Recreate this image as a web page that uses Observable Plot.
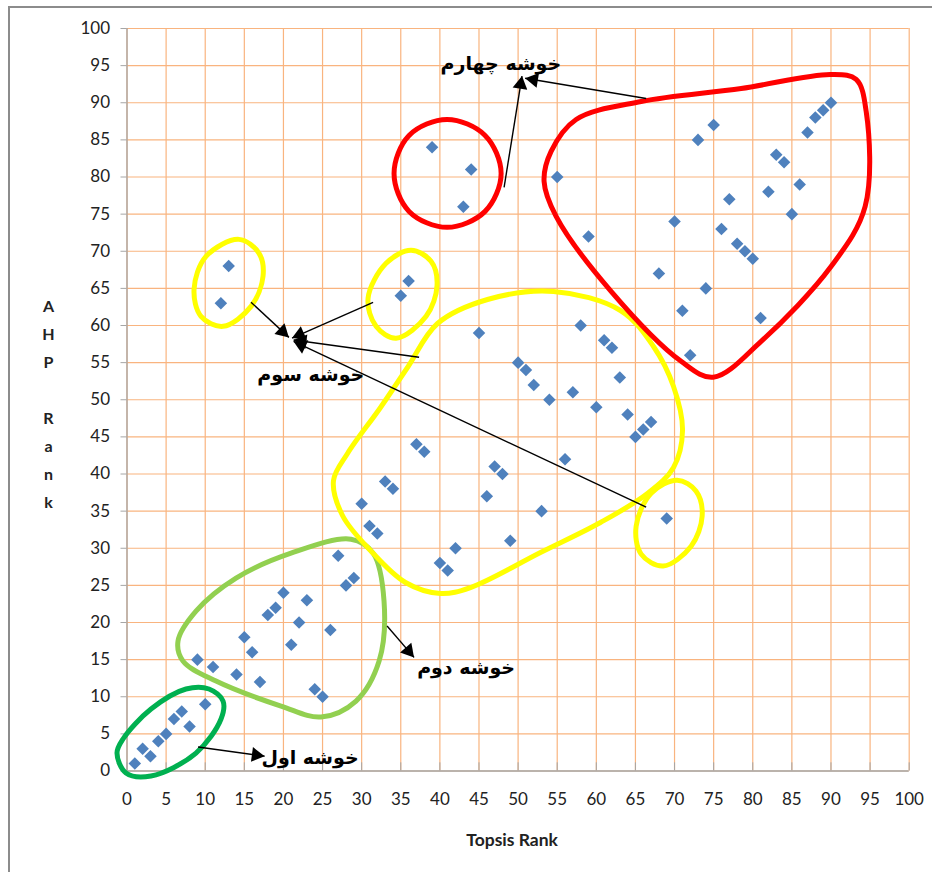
<!DOCTYPE html>
<html>
<head>
<meta charset="utf-8">
<script src="https://cdn.jsdelivr.net/npm/d3@7"></script>
<script src="https://cdn.jsdelivr.net/npm/@observablehq/plot@0.6"></script>
<style>
  html, body { margin: 0; padding: 0; background: #fff; overflow: hidden; }
  #wrap { position: relative; width: 933px; height: 872px; }
  #frame { position: absolute; left: 8px; top: 6px; width: 922px; height: 864px;
           border-left: 2px solid #8c8c8c; border-top: 2px solid #8c8c8c; pointer-events: none; z-index: 2; }
  #chart { position: absolute; left: 0; top: 0; }
</style>
</head>
<body>
<div id="wrap"><div id="frame"></div><div id="chart"></div></div>
<script>
// ---- data (Topsis rank vs AHP rank) ----
const topsisRank = [1,2,3,4,5,6,7,8,9,10,11,12,13,14,15,16,17,18,19,20,21,22,23,24,25,26,27,28,29,30,
  31,32,33,34,35,36,37,38,39,40,41,42,43,44,45,46,47,48,49,50,51,52,53,54,55,56,57,58,59,60,
  61,62,63,64,65,66,67,68,69,70,71,72,73,74,75,76,77,78,79,80,81,82,83,84,85,86,87,88,89,90];
const ahpRank = [1,3,2,4,5,7,8,6,15,9,14,63,68,13,18,16,12,21,22,24,17,20,23,11,10,19,29,25,26,36,
  33,32,39,38,64,66,44,43,84,28,27,30,76,81,59,37,41,40,31,55,54,52,35,50,80,42,51,60,72,49,
  58,57,53,48,45,46,47,67,34,74,62,56,85,65,87,73,77,71,70,69,61,78,83,82,75,79,86,88,89,90];
const xTicks = [0,5,10,15,20,25,30,35,40,45,50,55,60,65,70,75,80,85,90,95,100];
const yTicks = [0,5,10,15,20,25,30,35,40,45,50,55,60,65,70,75,80,85,90,95,100];

// ---- cluster outlines (data coordinates) ----
const cluster1Outline = [[-1.28,2.42],[-0.13,-0.27],[3.07,-0.67],[8.82,2.42],[12.02,7.0],[12.28,9.42],[10.49,11.04],[7.54,11.04],[3.07,8.34],[-0.51,4.31]];
const cluster2Outline = [[6.52,17.5],[8.82,21.53],[13.94,25.98],[20.97,29.34],[28.64,31.22],[31.46,29.34],[32.86,22.88],[32.23,14.8],[29.28,9.42],[24.81,7.27],[19.69,8.75],[11.38,12.11],[7.16,14.8]];
const cluster3Outline = [[54.53,64.58],[63.09,62.02],[67.31,57.17],[69.87,51.78],[71.02,45.86],[69.87,40.88],[66.54,37.37],[60.53,33.47],[52.86,29.43],[43.91,24.71],[40.07,23.91],[35.6,25.39],[31.13,29.7],[27.55,34.41],[26.4,39.12],[28.19,42.76],[32.41,48.96],[35.86,54.34],[39.7,60.27],[46.09,63.5]];
const cluster3SmallA = [[14.32,71.6],[16.88,69.72],[17.39,66.62],[15.86,62.58],[12.28,59.89],[9.46,61.24],[8.57,64.87],[10.1,69.31]];
const cluster3SmallB = [[36.32,70.12],[38.87,68.64],[39.64,65.41],[38.24,61.24],[34.4,58.28],[31.84,59.89],[30.82,63.66],[33.12,68.37]];
const cluster3SmallC = [[70.33,39.17],[72.76,37.69],[73.53,34.32],[72.12,30.28],[68.54,27.6],[65.73,29.21],[65.09,32.97],[67.01,37.42]];
const cluster4Circle = [[40.92,87.75],[45.78,85.6],[47.83,80.48],[45.78,75.37],[40.92,73.22],[36.06,75.37],[34.14,80.48],[36.06,85.6]];
const cluster4Outline = [[54.22,83.45],[57.42,87.75],[65.73,90.17],[78.52,91.92],[90.03,93.81],[93.22,93.14],[94.5,88.83],[94.37,76.04],[90.03,67.97],[81.07,57.87],[74.94,53.03],[70.84,55.18],[61.89,64.6],[54.86,74.7],[53.32,79.41]];

// ---- arrows [x1, y1, x2(tip), y2(tip)] ----
const arrowSegments = [
  [9.08,3.23,17.6,2.0],
  [33.25,19.52,36.7,15.3],
  [15.86,63.12,20.7,58.4],
  [31.46,63.12,21.1,58.3],
  [37.34,55.72,21.3,58.05],
  [66.37,35.53,21.3,57.85],
  [48.21,78.6,50.5,93.6],
  [66.37,90.58,50.9,93.3]
];

// ---- labels ----
const clusterLabels = ["خوشه اول", "خوشه دوم", "خوشه سوم", "خوشه چهارم"];
const clusterLabelX = [23.4, 43.35, 23.5, 47.8];
const clusterLabelY = [1.75, 13.86, 53.4, 95.2];

const points = topsisRank.map((x, i) => ({x, y: ahpRank[i]}));
const labels = clusterLabels.map((t, i) => ({t, x: clusterLabelX[i], y: clusterLabelY[i]}));

const base = {
  width: 933, height: 872,
  marginLeft: 126.5, marginRight: 24.3, marginTop: 28, marginBottom: 101.5,
  x: {domain: [0, 100]}, y: {domain: [0, 100]},
  style: {fontFamily: "Lato, 'Open Sans', sans-serif", fontSize: "17px", color: "#222", background: "transparent"}
};

// preliminary plot to get pixel scales for arrowhead orientation
const pre = Plot.plot({...base, marks: [Plot.dot(points, {x: "x", y: "y"})]});
const sx = pre.scale("x"), sy = pre.scale("y");
const headR = 5.5;
const tipDist = 2 * Math.sqrt((Math.PI * headR * headR) / (3 * Math.sqrt(3)));
const heads = arrowSegments.map(a => {
  const px1 = sx.apply(a[0]), py1 = sy.apply(a[1]);
  const px2 = sx.apply(a[2]), py2 = sy.apply(a[3]);
  const dx = px2 - px1, dy = py2 - py1, L = Math.hypot(dx, dy);
  const ux = dx / L, uy = dy / L;
  return {
    x: sx.invert(px2 - ux * tipDist),
    y: sy.invert(py2 - uy * tipDist),
    rotate: Math.atan2(ux, -uy) * 180 / Math.PI
  };
});
const links = arrowSegments.map(a => ({x1: a[0], y1: a[1], x2: a[2], y2: a[3]}));

const gridColor = "#F9B47F";
const axisColor = "#A6A6A6";
const outline = (data, color) => Plot.line(data, {x: d => d[0], y: d => d[1], curve: "catmull-rom-closed", stroke: color, strokeWidth: 5});

const chart = Plot.plot({
  ...base,
  marks: [
    Plot.ruleX(xTicks, {stroke: gridColor, strokeWidth: 1.2}),
    Plot.ruleY(yTicks, {stroke: gridColor, strokeWidth: 1.2}),
    Plot.ruleX(xTicks, {y1: 0, y2: 1.1, stroke: axisColor}),
    Plot.ruleY([0], {stroke: axisColor, strokeWidth: 1.3}),
    Plot.ruleX([0], {stroke: axisColor, strokeWidth: 1.3}),
    Plot.axisY(yTicks, {tickSize: 6, tickPadding: 11, stroke: axisColor, fill: "#222", fontSize: 17, label: null}),
    Plot.axisX(xTicks, {tickSize: 0, tickPadding: 22, fill: "#222", fontSize: 17, label: null}),
    Plot.dot(points, {x: "x", y: "y", symbol: "square", r: 5, rotate: 45, fill: "#4F81BD"}),
    outline(cluster1Outline, "#00B050"),
    outline(cluster2Outline, "#92D050"),
    outline(cluster3Outline, "#FFFF00"),
    outline(cluster3SmallA, "#FFFF00"),
    outline(cluster3SmallB, "#FFFF00"),
    outline(cluster3SmallC, "#FFFF00"),
    outline(cluster4Circle, "#FF0000"),
    outline(cluster4Outline, "#FF0000"),
    Plot.link(links, {x1: "x1", y1: "y1", x2: "x2", y2: "y2", stroke: "#000", strokeWidth: 1.4}),
    Plot.dot(heads, {x: "x", y: "y", rotate: "rotate", symbol: "triangle", r: headR, fill: "#000"}),
    Plot.text(labels, {x: "x", y: "y", text: "t", fontFamily: "'DejaVu Sans', sans-serif", fontWeight: "bold", fontSize: 19, fill: "#000"}),
    Plot.text(["Topsis Rank"], {frameAnchor: "bottom", dy: 69.5, dx: -6, fontWeight: "bold", fontSize: 17.5, fill: "#222", lineAnchor: "middle"}),
    Plot.text(["A\nH\nP\n\nR\na\nn\nk"], {frameAnchor: "left", dx: -78.5, dy: 1.5, fontWeight: "bold", fontSize: 16, fill: "#222", lineHeight: 1.75, lineAnchor: "middle", textAnchor: "middle"})
  ]
});
document.getElementById("chart").appendChild(chart);
</script>
</body>
</html>
